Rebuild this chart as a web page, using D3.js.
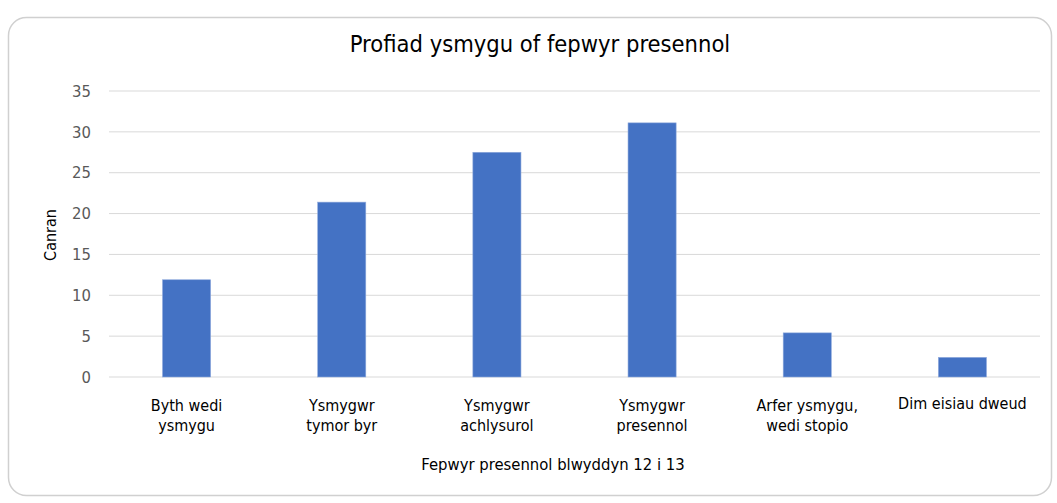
<!DOCTYPE html>
<html>
<head>
<meta charset="utf-8">
<script src="https://cdn.jsdelivr.net/npm/d3@7"></script>
<style>
  body { margin: 0; background: #fff; }
  svg { display: block; }
  text { font-family: Tahoma, "DejaVu Sans Condensed", "DejaVu Sans", sans-serif; font-stretch: condensed; }
</style>
</head>
<body>
<div id="chart"></div>
<script>
// Profiad ysmygu bar chart

const categories = [
  ["Byth wedi", "ysmygu"],
  ["Ysmygwr", "tymor byr"],
  ["Ysmygwr", "achlysurol"],
  ["Ysmygwr", "presennol"],
  ["Arfer ysmygu,", "wedi stopio"],
  ["Dim eisiau dweud"]
];
const values = [11.9, 21.4, 27.5, 31.1, 5.4, 2.4];
const yTicks = [0, 5, 10, 15, 20, 25, 30, 35];

const W = 1057, H = 503;
const svg = d3.select("#chart").append("svg")
  .attr("width", W)
  .attr("height", H);

// card
svg.append("rect")
  .attr("x", 8.5).attr("y", 17.5)
  .attr("width", 1043).attr("height", 478)
  .attr("rx", 18)
  .attr("fill", "#fff")
  .attr("stroke", "#d0d0d0")
  .attr("stroke-width", 1.5);

const plot = { left: 109, right: 1040, top: 91, bottom: 377 };

const x = d3.scaleBand()
  .domain(d3.range(categories.length))
  .range([plot.left, plot.right])
  .paddingInner(0.69)
  .paddingOuter(0.345);

const y = d3.scaleLinear()
  .domain([0, 35])
  .range([plot.bottom, plot.top]);

// gridlines
svg.append("g")
  .selectAll("line")
  .data(yTicks)
  .join("line")
  .attr("x1", plot.left).attr("x2", plot.right)
  .attr("y1", d => y(d)).attr("y2", d => y(d))
  .attr("stroke", "#d9d9d9")
  .attr("stroke-width", 1);

// y tick labels
svg.append("g")
  .selectAll("text")
  .data(yTicks)
  .join("text")
  .attr("x", 91)
  .attr("y", d => y(d))
  .attr("dy", "0.35em")
  .attr("text-anchor", "end")
  .attr("fill", "#595959")
  .style("font-size", "16.5px")
  .text(d => d);

// bars
svg.append("g")
  .selectAll("rect")
  .data(values)
  .join("rect")
  .attr("x", (d, i) => x(i))
  .attr("y", d => y(d))
  .attr("width", x.bandwidth())
  .attr("height", d => y(0) - y(d))
  .attr("fill", "#4472c4")
  .attr("stroke", "#8faadc")
  .attr("stroke-width", 0.6);

// category labels
const catLabels = svg.append("g")
  .selectAll("text")
  .data(categories)
  .join("text")
  .attr("text-anchor", "middle")
  .attr("fill", "#000")
  .style("font-size", "16px")
  .attr("transform", (d, i) => `translate(${x(i) + x.bandwidth() / 2},${d.length > 1 ? 411 : 409})`);

catLabels.selectAll("tspan")
  .data(d => d)
  .join("tspan")
  .attr("x", 0)
  .attr("dy", (d, i) => i === 0 ? 0 : 20)
  .text(d => d);

// axis titles
svg.append("text")
  .attr("x", 553)
  .attr("y", 470)
  .attr("text-anchor", "middle")
  .style("font-size", "16.5px")
  .text("Fepwyr presennol blwyddyn 12 i 13");

svg.append("text")
  .attr("transform", "translate(56,235) rotate(-90)")
  .attr("text-anchor", "middle")
  .style("font-size", "16px")
  .text("Canran");

// title
svg.append("text")
  .attr("x", 540)
  .attr("y", 52)
  .attr("text-anchor", "middle")
  .style("font-size", "23.5px")
  .text("Profiad ysmygu of fepwyr presennol");
</script>
</body>
</html>
